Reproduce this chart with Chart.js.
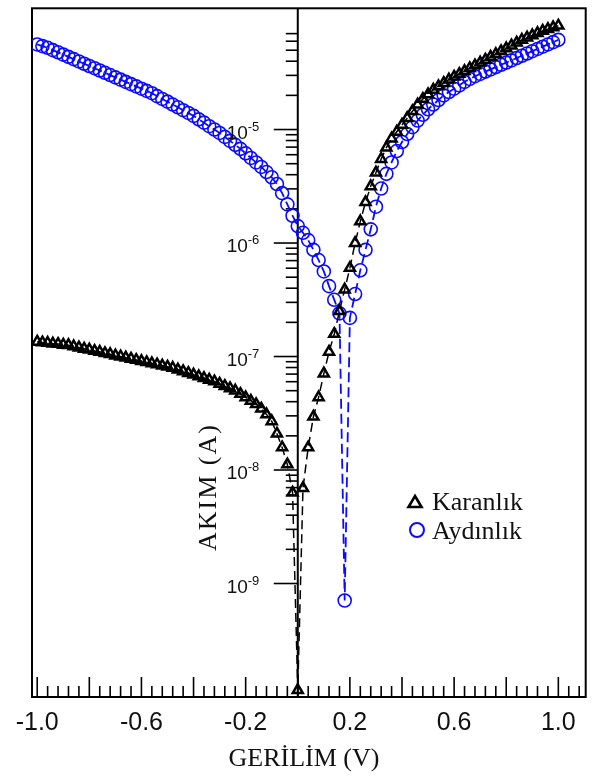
<!DOCTYPE html>
<html><head><meta charset="utf-8">
<script src="https://cdn.jsdelivr.net/npm/chart.js@4.4.1/dist/chart.umd.min.js"></script>
<style>html,body{margin:0;padding:0;background:#fff;}#wrap{width:594px;height:779px;position:relative;}</style>
</head><body><div id="wrap"><canvas id="c" width="594" height="779"></canvas></div>
<script>
const voltage = [
-1.00,-0.98,-0.96,-0.94,-0.92,-0.90,-0.88,-0.86,-0.84,-0.82,
-0.80,-0.78,-0.76,-0.74,-0.72,-0.70,-0.68,-0.66,-0.64,-0.62,
-0.60,-0.58,-0.56,-0.54,-0.52,-0.50,-0.48,-0.46,-0.44,-0.42,
-0.40,-0.38,-0.36,-0.34,-0.32,-0.30,-0.28,-0.26,-0.24,-0.22,
-0.20,-0.18,-0.16,-0.14,-0.12,-0.10,-0.08,-0.06,-0.04,-0.02,
0.00,
0.02,0.04,0.06,0.08,0.10,0.12,0.14,0.16,0.18,0.20,
0.22,0.24,0.26,0.28,0.30,0.32,0.34,0.36,0.38,0.40,
0.42,0.44,0.46,0.48,0.50,0.52,0.54,0.56,0.58,0.60,
0.62,0.64,0.66,0.68,0.70,0.72,0.74,0.76,0.78,0.80,
0.82,0.84,0.86,0.88,0.90,0.92,0.94,0.96,0.98,1.00];

// Karanlık (dark) current, A
const darkCurrent = [
1.35e-7,1.33e-7,1.32e-7,1.30e-7,1.29e-7,1.27e-7,1.26e-7,1.23e-7,1.20e-7,1.17e-7,
1.15e-7,1.12e-7,1.10e-7,1.07e-7,1.05e-7,1.02e-7,1.00e-7,9.77e-8,9.55e-8,9.33e-8,
9.12e-8,8.91e-8,8.71e-8,8.51e-8,8.32e-8,8.13e-8,7.94e-8,7.67e-8,7.41e-8,7.16e-8,
6.92e-8,6.68e-8,6.46e-8,6.24e-8,6.03e-8,5.75e-8,5.50e-8,5.25e-8,5.01e-8,4.68e-8,
4.37e-8,4.07e-8,3.80e-8,3.47e-8,3.09e-8,2.69e-8,2.09e-8,1.58e-8,1.12e-8,6.31e-9,
1.15e-10,
6.92e-9,1.58e-8,2.95e-8,4.37e-8,7.08e-8,1.10e-7,1.58e-7,2.51e-7,3.89e-7,6.03e-7,
1.00e-6,1.55e-6,2.29e-6,3.16e-6,4.17e-6,5.50e-6,6.92e-6,8.32e-6,9.55e-6,1.10e-5,
1.26e-5,1.45e-5,1.66e-5,1.86e-5,2.04e-5,2.24e-5,2.40e-5,2.57e-5,2.75e-5,2.92e-5,
3.09e-5,3.27e-5,3.47e-5,3.67e-5,3.89e-5,4.12e-5,4.37e-5,4.62e-5,4.90e-5,5.19e-5,
5.50e-5,5.82e-5,6.17e-5,6.46e-5,6.76e-5,7.08e-5,7.41e-5,7.67e-5,7.94e-5,8.22e-5];

// Aydınlık (illuminated) current, A
const lightCurrent = [
5.62e-5,5.43e-5,5.25e-5,5.01e-5,4.79e-5,4.57e-5,4.37e-5,4.17e-5,3.98e-5,3.80e-5,
3.63e-5,3.47e-5,3.31e-5,3.16e-5,3.02e-5,2.88e-5,2.75e-5,2.63e-5,2.51e-5,2.40e-5,
2.29e-5,2.19e-5,2.09e-5,1.97e-5,1.86e-5,1.76e-5,1.66e-5,1.57e-5,1.48e-5,1.40e-5,
1.32e-5,1.23e-5,1.15e-5,1.07e-5,1.00e-5,9.33e-6,8.61e-6,7.94e-6,7.33e-6,6.76e-6,
6.17e-6,5.62e-6,5.13e-6,4.68e-6,4.22e-6,3.80e-6,3.31e-6,2.75e-6,2.19e-6,1.74e-6,
1.41e-6,
1.23e-6,1.06e-6,8.71e-7,7.08e-7,5.62e-7,4.17e-7,3.16e-7,2.40e-7,7.08e-10,2.19e-7,
3.55e-7,5.75e-7,8.71e-7,1.32e-6,2.09e-6,3.02e-6,4.07e-6,5.13e-6,6.46e-6,7.76e-6,
9.12e-6,1.05e-5,1.20e-5,1.35e-5,1.51e-5,1.66e-5,1.82e-5,2.00e-5,2.14e-5,2.29e-5,
2.45e-5,2.63e-5,2.79e-5,2.95e-5,3.09e-5,3.24e-5,3.39e-5,3.55e-5,3.72e-5,3.89e-5,
4.07e-5,4.27e-5,4.47e-5,4.68e-5,4.90e-5,5.13e-5,5.37e-5,5.62e-5,5.89e-5,6.17e-5];

const seriesNames = ['Karanlık', 'Aydınlık'];
const xTickLabelValues = [-1.0, -0.6, -0.2, 0.2, 0.6, 1.0];
const xTickLabels = ['-1.0', '-0.6', '-0.2', '0.2', '0.6', '1.0'];
const yDecadeExponents = [-9, -8, -7, -6, -5];
const yDecadeLabels = ['-9', '-8', '-7', '-6', '-5'];
const xTitle = 'GERİLİM (V)';
const yTitle = 'AKIM (A)';

const BLUE = '#0a0aff';
const SANS = '"Liberation Sans", Arial, sans-serif';
const SERIF = '"Liberation Serif", "Times New Roman", serif';

const axesPlugin = {
  id: 'axesPlugin',
  beforeDatasetsDraw(chart) {
    const ctx = chart.ctx, a = chart.chartArea;
    const xs = chart.scales.x, ys = chart.scales.y;
    ctx.save();
    ctx.strokeStyle = '#000';
    ctx.lineWidth = 2;
    ctx.strokeRect(a.left, a.top, a.right - a.left, a.bottom - a.top);
    ctx.lineWidth = 1.6;
    for (let i = -26; i <= 28; i++) {
      const v = i * 0.04;
      const px = xs.getPixelForValue(v);
      if (px < a.left + 2 || px > a.right - 2) continue;
      const len = (i % 5 === 0) ? 20 : 11;
      ctx.beginPath(); ctx.moveTo(px, a.bottom); ctx.lineTo(px, a.bottom - len); ctx.stroke();
    }
    const x0 = xs.getPixelForValue(0);
    ctx.lineWidth = 2;
    ctx.beginPath(); ctx.moveTo(x0, a.top); ctx.lineTo(x0, a.bottom); ctx.stroke();
    ctx.lineWidth = 1.6;
    for (let e = -9; e <= -5; e++) {
      const pyM = ys.getPixelForValue(Math.pow(10, e));
      ctx.beginPath(); ctx.moveTo(x0 - 24, pyM); ctx.lineTo(x0, pyM); ctx.stroke();
      const mmax = (e === -5) ? 7 : 9;
      for (let m = 2; m <= mmax; m++) {
        const py = ys.getPixelForValue(m * Math.pow(10, e));
        ctx.beginPath(); ctx.moveTo(x0 - 12, py); ctx.lineTo(x0, py); ctx.stroke();
      }
    }
    ctx.restore();
  },
  afterDraw(chart) {
    const ctx = chart.ctx, a = chart.chartArea;
    const xs = chart.scales.x, ys = chart.scales.y;
    const x0 = xs.getPixelForValue(0);
    ctx.save();
    ctx.fillStyle = '#111';
    ctx.font = '25px ' + SANS;
    ctx.textAlign = 'center'; ctx.textBaseline = 'alphabetic';
    xTickLabelValues.forEach((v, i) => {
      ctx.fillText(xTickLabels[i], xs.getPixelForValue(v), 730);
    });
    yDecadeExponents.forEach((e, i) => {
      const py = ys.getPixelForValue(Math.pow(10, e));
      ctx.font = '19px ' + SANS;
      ctx.textAlign = 'right';
      ctx.fillText('10', x0 - 50, py + 9);
      ctx.font = '13px ' + SANS;
      ctx.textAlign = 'left';
      ctx.fillText(yDecadeLabels[i], x0 - 50, py + 1);
    });
    ctx.font = '26px ' + SERIF;
    ctx.textAlign = 'center';
    ctx.fillText(xTitle, 304, 766);
    ctx.save();
    ctx.translate(216, 487);
    ctx.rotate(-Math.PI / 2);
    try { ctx.letterSpacing = '2px'; } catch (err) {}
    ctx.fillText(yTitle, 0, 0);
    ctx.restore();
    // legend
    ctx.strokeStyle = '#000'; ctx.lineWidth = 2.6;
    ctx.beginPath();
    ctx.moveTo(415, 496); ctx.lineTo(421.5, 507); ctx.lineTo(408.5, 507); ctx.closePath(); ctx.stroke();
    ctx.strokeStyle = BLUE; ctx.lineWidth = 2;
    ctx.beginPath(); ctx.arc(417, 530, 7, 0, Math.PI * 2); ctx.stroke();
    ctx.fillStyle = '#111';
    ctx.font = '26px ' + SERIF;
    ctx.textAlign = 'left';
    ctx.fillText(seriesNames[0], 432, 510);
    ctx.fillText(seriesNames[1], 432, 539);
    ctx.restore();
  }
};

const toPts = (ys) => voltage.map((v, i) => ({ x: v, y: ys[i] }));

new Chart(document.getElementById('c').getContext('2d'), {
  type: 'line',
  data: {
    datasets: [
      {
        label: seriesNames[0], data: toPts(darkCurrent), order: 0,
        borderColor: '#000', borderWidth: 1.5, borderDash: [9, 5], tension: 0,
        pointStyle: 'triangle', pointRadius: 5.8, pointBorderWidth: 2.5,
        pointBorderColor: '#000', pointBackgroundColor: 'rgba(0,0,0,0)', fill: false
      },
      {
        label: seriesNames[1], data: toPts(lightCurrent), order: 1,
        borderColor: BLUE, borderWidth: 1.8, borderDash: [10, 5], tension: 0,
        pointStyle: 'circle', pointRadius: 6.5, pointBorderWidth: 1.6,
        pointBorderColor: BLUE, pointBackgroundColor: 'rgba(0,0,0,0)', fill: false
      }
    ]
  },
  options: {
    responsive: false, animation: false, devicePixelRatio: 1,
    layout: { padding: { left: 32, right: 4, top: 4, bottom: 82 } },
    plugins: { legend: { display: false }, tooltip: { enabled: false } },
    scales: {
      x: { type: 'linear', min: -1.02, max: 1.105, display: false, bounds: 'data' },
      y: { type: 'logarithmic', min: 1e-10, max: 1.17e-4, display: false, bounds: 'data' }
    }
  },
  plugins: [axesPlugin]
});
</script>
</body></html>
